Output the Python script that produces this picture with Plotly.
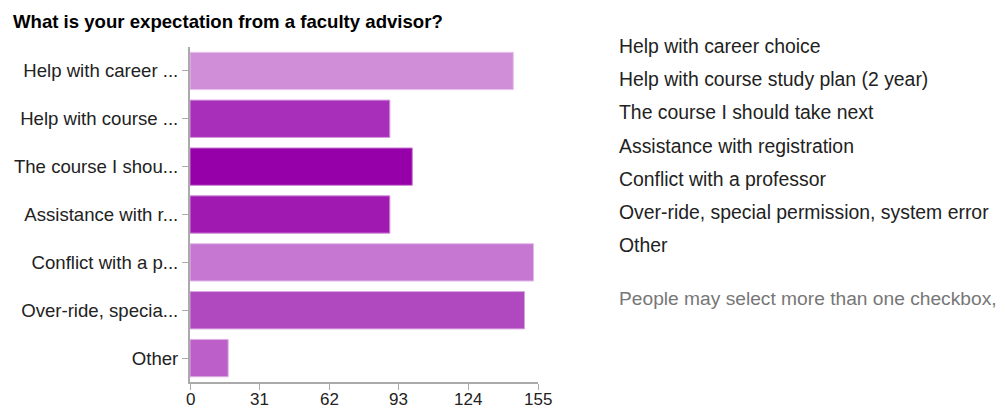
import plotly.graph_objects as go

title = "What is your expectation from a faculty advisor?"
categories = [
    "Help with career choice",
    "Help with course study plan (2 year)",
    "The course I should take next",
    "Assistance with registration",
    "Conflict with a professor",
    "Over-ride, special permission, system error",
    "Other",
]
tick_labels = [
    "Help with career ...",
    "Help with course ...",
    "The course I shou...",
    "Assistance with r...",
    "Conflict with a p...",
    "Over-ride, specia...",
    "Other",
]
values = [144, 89, 99, 89, 153, 149, 17]
x_ticks = [0, 31, 62, 93, 124, 155]
note = "People may select more than one checkbox,"

bar_colors = ["#D08ED8", "#A82FBA", "#9500A8", "#A01AB2", "#C677D2", "#B048BF", "#BD5FC9"]
edge_colors = ["#E6C3EA", "#D49BDC", "#CA80D3", "#CF8DD8", "#E3BBE8", "#D8A4DF", "#DEAFE4"]

FONT = "Liberation Sans, Arial"
W, H = 1000, 408
L, R, T, B = 190, 538, 47, 382

fig = go.Figure(
    go.Bar(
        x=values,
        y=categories,
        orientation="h",
        marker=dict(color=bar_colors, line=dict(color=edge_colors, width=1)),
        hoverinfo="x+y",
    )
)

def px_x(p):
    return (p - L) / (R - L)

def px_y(p):
    return (B - p) / (B - T)

annotations = [
    dict(text="<b>" + title + "</b>", x=px_x(11), y=px_y(21), xref="paper", yref="paper",
         xanchor="left", yanchor="middle", showarrow=False,
         font=dict(family=FONT, size=18.6, color="#000000")),
]
for i, c in enumerate(categories):
    annotations.append(dict(text=c, x=px_x(617), y=px_y(46 + i * 33.2), xref="paper", yref="paper",
                            xanchor="left", yanchor="middle", showarrow=False,
                            font=dict(family=FONT, size=19.4, color="#222222")))
annotations.append(dict(text=note, x=px_x(617), y=px_y(298), xref="paper", yref="paper",
                        xanchor="left", yanchor="middle", showarrow=False,
                        font=dict(family=FONT, size=19.2, color="#777777")))
# x tick labels placed through the x axis scale
for v in x_ticks:
    annotations.append(dict(text=str(v), x=v, xref="x", y=px_y(399), yref="paper",
                            xanchor="center", yanchor="middle", showarrow=False,
                            font=dict(family=FONT, size=17, color="#222222")))

fig.update_layout(
    width=W, height=H,
    margin=dict(l=L, r=W - R, t=T, b=H - B, pad=0, autoexpand=False),
    paper_bgcolor="white", plot_bgcolor="white",
    bargap=0.22,
    showlegend=False,
    font=dict(family=FONT, size=18, color="#222222"),
    annotations=annotations,
    xaxis=dict(range=[0, 155], tickvals=x_ticks, showgrid=False, zeroline=False,
               automargin=False, showticklabels=False,
               showline=True, linecolor="#AAAAAA", linewidth=2, ticks="outside",
               ticklen=6, tickcolor="#AAAAAA", tickwidth=1),
    yaxis=dict(categoryorder="array", categoryarray=categories, autorange="reversed",
               automargin=False,
               tickvals=categories, ticktext=tick_labels, showgrid=False, zeroline=False,
               showline=True, linecolor="#AAAAAA", linewidth=2, ticks="outside",
               ticklen=6, tickcolor="#AAAAAA", tickwidth=1,
               tickfont=dict(family=FONT, size=18.6, color="#222222")),
)

fig.write_html("out.html")
